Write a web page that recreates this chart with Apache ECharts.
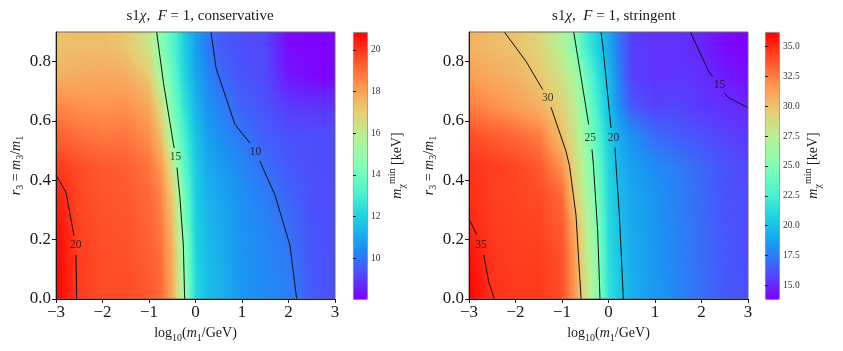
<!DOCTYPE html>
<html>
<head>
<meta charset="utf-8">
<script src="https://cdn.jsdelivr.net/npm/echarts@6/dist/echarts.min.js"></script>
<style>
  html, body { margin: 0; padding: 0; background: #fff; }
  #chart { width: 843px; height: 351px; }
</style>
</head>
<body>
<div id="chart"></div>
<script>
// grid nodes of the two maps (x = log10(m1/GeV), y = r3)
var X_NODES = [-3, -2.5, -2, -1.5, -1, -0.75, -0.5, -0.25, 0, 0.25, 0.5, 1, 1.5, 2, 2.5, 3];
var Y_ROWS = [0.05, 0.15, 0.25, 0.35, 0.45, 0.55, 0.65, 0.75, 0.85];

// m_chi^min [keV], one row per Y_ROWS entry (bottom -> top)
var CONS_VALUES = [
  [20.85, 19.9, 19.6, 19.6, 19.4, 19.1, 17.9, 15.05, 12.2, 11.6, 11.3, 10.6, 10.4, 10.2, 9.5, 9.35],
  [20.8, 19.85, 19.6, 19.55, 19.3, 19.0, 17.8, 14.85, 12.1, 11.5, 11.2, 10.6, 10.35, 10.05, 9.45, 9.35],
  [20.7, 19.75, 19.55, 19.5, 19.2, 18.8, 17.5, 14.5, 12.0, 11.4, 11.1, 10.55, 10.3, 9.9, 9.4, 9.3],
  [20.4, 19.7, 19.5, 19.4, 19.1, 18.6, 17.1, 14.1, 11.9, 11.3, 11.0, 10.5, 10.15, 9.7, 9.35, 9.3],
  [19.95, 19.6, 19.4, 19.3, 18.9, 18.2, 16.3, 13.6, 11.8, 11.1, 10.8, 10.35, 9.9, 9.5, 9.3, 9.3],
  [19.3, 19.0, 18.8, 18.9, 18.4, 17.4, 15.0, 13.1, 11.6, 10.9, 10.5, 10.05, 9.6, 9.35, 9.3, 9.3],
  [18.6, 18.4, 18.3, 18.4, 17.9, 16.6, 14.4, 12.6, 11.3, 10.6, 10.25, 9.65, 9.4, 9.0, 8.9, 8.9],
  [17.7, 17.8, 17.9, 17.8, 17.1, 15.3, 13.9, 12.2, 11.0, 10.4, 9.9, 9.4, 9.25, 8.4, 8.15, 8.1],
  [17.3, 17.4, 17.4, 17.2, 16.3, 14.7, 13.5, 12.0, 10.8, 10.15, 9.6, 9.3, 9.2, 8.2, 8.1, 8.05]
];
var STRI_VALUES = [
  [36.1, 34.85, 34.6, 34.6, 34.0, 31.8, 28.6, 25.7, 21.6, 20.3, 19.3, 18.5, 17.8, 17.1, 16.4, 16.1],
  [35.7, 34.7, 34.5, 34.5, 33.9, 31.6, 28.3, 25.5, 21.4, 20.1, 19.2, 18.4, 17.75, 17.05, 16.35, 16.05],
  [35.1, 34.6, 34.4, 34.3, 33.6, 31.1, 27.9, 25.1, 21.2, 19.9, 19.1, 18.35, 17.7, 17.0, 16.3, 16.0],
  [34.9, 34.5, 34.3, 34.1, 33.2, 29.9, 27.3, 24.6, 21.0, 19.7, 19.0, 18.3, 17.65, 16.95, 16.25, 15.95],
  [34.8, 34.5, 34.2, 33.7, 31.8, 29.2, 26.7, 24.0, 20.9, 19.5, 18.7, 18.0, 17.45, 16.8, 16.2, 15.85],
  [34.0, 33.6, 33.2, 32.6, 30.1, 28.4, 26.1, 23.3, 20.5, 19.1, 18.2, 17.0, 16.5, 16.1, 15.7, 15.4],
  [32.6, 32.0, 31.4, 30.7, 29.3, 27.9, 25.1, 22.5, 20.0, 18.0, 16.4, 15.7, 15.8, 15.4, 15.2, 14.95],
  [31.4, 31.0, 30.6, 29.8, 28.4, 26.9, 24.4, 21.8, 19.6, 17.5, 15.7, 15.3, 15.4, 15.2, 14.6, 14.2],
  [30.6, 30.3, 30.0, 29.2, 27.3, 25.4, 22.6, 20.8, 19.0, 17.2, 15.6, 15.3, 15.3, 14.9, 14.1, 13.9]
];

// colour bar ranges and ticks
var CONS_RANGE = [8.05, 20.86];
var STRI_RANGE = [13.85, 36.23];
var CONS_TICKS = [10, 12, 14, 16, 18, 20];
var STRI_TICKS = [15, 17.5, 20, 22.5, 25, 27.5, 30, 32.5, 35];

// contour lines, split where the inline label sits
var CONS_CONTOURS = [
  { level: 20, label: [-2.577, 0.182],
    parts: [[[-3, 0.418], [-2.785, 0.36], [-2.613, 0.213]], [[-2.57, 0.148], [-2.555, 0]]] },
  { level: 15, label: [-0.43, 0.478],
    parts: [[[-0.835, 0.9], [-0.69, 0.73], [-0.477, 0.525], [-0.456, 0.509]],
            [[-0.398, 0.443], [-0.333, 0.339], [-0.262, 0.182], [-0.233, 0]]] },
  { level: 10, label: [1.29, 0.495],
    parts: [[[0.333, 0.9], [0.441, 0.779], [0.849, 0.588], [1.172, 0.526]],
            [[1.387, 0.466], [1.42, 0.452], [1.71, 0.35], [2.03, 0.182], [2.176, 0]]] }
];
var STRI_CONTOURS = [
  { level: 35, label: [-2.74, 0.182],
    parts: [[[-3, 0.27], [-2.834, 0.217]], [[-2.684, 0.148], [-2.576, 0.058], [-2.454, 0]]] },
  { level: 30, label: [-1.307, 0.678],
    parts: [[[-2.239, 0.9], [-1.774, 0.801], [-1.415, 0.706]],
            [[-1.236, 0.646], [-0.914, 0.498], [-0.84, 0.45], [-0.699, 0.283], [-0.59, 0]]] },
  { level: 25, label: [-0.39, 0.543],
    parts: [[[-0.748, 0.9], [-0.426, 0.588]], [[-0.355, 0.504], [-0.325, 0.452], [-0.232, 0.227], [-0.183, 0]]] },
  { level: 20, label: [0.105, 0.543],
    parts: [[[-0.161, 0.9], [-0.125, 0.857], [0.054, 0.577]], [[0.14, 0.51], [0.161, 0.452], [0.234, 0.283], [0.32, 0]]] },
  { level: 15, label: [2.385, 0.722],
    parts: [[[1.761, 0.9], [2.155, 0.767], [2.24, 0.75]], [[2.49, 0.694], [2.585, 0.678], [3, 0.645]]] }
];

// matplotlib "rainbow" colour map stops
var RAINBOW = ['#8000ff', '#4d4ffc', '#1996f3', '#1acee3', '#4df3ce', '#80ffb4',
               '#b3f396', '#e6ce74', '#ff964f', '#ff4f28', '#ff0000'];

var SERIF = "'Liberation Serif', 'DejaVu Serif', serif";
var INK = '#1a1a1a';

var rgbStops = RAINBOW.map(function (h) {
  return [parseInt(h.substr(1, 2), 16), parseInt(h.substr(3, 2), 16), parseInt(h.substr(5, 2), 16)];
});

function cmap(v, range) {
  var t = (v - range[0]) / (range[1] - range[0]);
  t = Math.max(0, Math.min(1, t)) * (rgbStops.length - 1);
  var k = Math.min(Math.floor(t), rgbStops.length - 2), f = t - k;
  var a = rgbStops[k], b = rgbStops[k + 1];
  return 'rgb(' + Math.round(a[0] + (b[0] - a[0]) * f) + ',' +
    Math.round(a[1] + (b[1] - a[1]) * f) + ',' + Math.round(a[2] + (b[2] - a[2]) * f) + ')';
}

// one cell per x segment and per band between rows (edge bands keep the edge row)
function buildCells(values) {
  var cells = [];
  for (var j = 0; j <= Y_ROWS.length; j++) {
    var lo = j === 0 ? 0 : Y_ROWS[j - 1], hi = j === Y_ROWS.length ? 0.9 : Y_ROWS[j];
    for (var i = 0; i < X_NODES.length - 1; i++) {
      var r = Math.min(j, Y_ROWS.length - 1);
      cells.push([(X_NODES[i] + X_NODES[i + 1]) / 2, (lo + hi) / 2, values[r][i], i, j]);
    }
  }
  return cells;
}

function heatRenderer(values, range) {
  var ny = Y_ROWS.length;
  return function (params, api) {
    var i = api.value(3), j = api.value(4);
    var yLo = j === 0 ? 0 : Y_ROWS[j - 1];
    var yHi = j === ny ? 0.9 : Y_ROWS[j];
    var ra = Math.max(j - 1, 0), rb = Math.min(j, ny - 1);
    var children = [], n = 12;
    for (var s = 0; s < n; s++) {
      var ya = yLo + (yHi - yLo) * s / n, yb = yLo + (yHi - yLo) * (s + 1) / n;
      var f = ra === rb ? 0 : ((ya + yb) / 2 - Y_ROWS[ra]) / (Y_ROWS[rb] - Y_ROWS[ra]);
      var vl = values[ra][i] + (values[rb][i] - values[ra][i]) * f;
      var vr = values[ra][i + 1] + (values[rb][i + 1] - values[ra][i + 1]) * f;
      var p0 = api.coord([X_NODES[i], yb]), p1 = api.coord([X_NODES[i + 1], ya]);
      var x0 = Math.round(p0[0]), x1 = Math.round(p1[0]), y0 = Math.round(p0[1]), y1 = Math.round(p1[1]);
      if (y1 <= y0 || x1 <= x0) continue;
      var stops = [];
      for (var k = 0; k <= 5; k++) {
        stops.push({ offset: k / 5, color: cmap(vl + (vr - vl) * k / 5, range) });
      }
      children.push({
        type: 'rect',
        shape: { x: x0, y: y0, width: x1 - x0, height: y1 - y0 },
        style: { fill: { type: 'linear', x: 0, y: 0, x2: 1, y2: 0, colorStops: stops } }
      });
    }
    return { type: 'group', children: children };
  };
}

var richText = {
  r: { fontFamily: SERIF, fontSize: 14, color: INK, lineHeight: 20 },
  i: { fontFamily: SERIF, fontSize: 14, fontStyle: 'italic', color: INK, lineHeight: 20 },
  s: { fontFamily: SERIF, fontSize: 10, color: INK, verticalAlign: 'bottom', lineHeight: 12 },
  p: { fontFamily: SERIF, fontSize: 10, color: INK, verticalAlign: 'top', lineHeight: 12 }
};

function mainXAxis(gi) {
  return {
    type: 'value', gridIndex: gi, min: -3, max: 3, interval: 1, z: 10,
    name: '{r|log}{s|10}{r|(}{i|m}{s|1}{r|/GeV)}', nameLocation: 'middle', nameGap: 21,
    nameTextStyle: { rich: richText },
    axisLine: { show: true, onZero: false, lineStyle: { color: INK, width: 1 } },
    axisTick: { length: 4, lineStyle: { color: INK } },
    axisLabel: { fontFamily: SERIF, fontSize: 17, color: INK, margin: 5,
      formatter: function (v) { return String(v).replace('-', '\u2212'); } },
    splitLine: { show: false }
  };
}

function mainYAxis(gi) {
  var ticks = [0, 0.2, 0.4, 0.6, 0.8];
  return {
    type: 'value', gridIndex: gi, min: 0, max: 0.9, z: 10,
    name: '{i|r}{s|3}{r| = }{i|m}{s|3}{r|/}{i|m}{s|1}', nameLocation: 'middle', nameGap: 28, nameRotate: 90,
    nameTextStyle: { rich: richText },
    axisLine: { show: true, onZero: false, lineStyle: { color: INK, width: 1 } },
    axisTick: { length: 4, customValues: ticks, lineStyle: { color: INK } },
    axisLabel: { fontFamily: SERIF, fontSize: 17, color: INK, margin: 5, customValues: ticks,
      formatter: function (v) { return v.toFixed(1); } },
    splitLine: { show: false }
  };
}

function barYAxis(gi, range, ticks, digits, gap) {
  return {
    type: 'value', gridIndex: gi, min: range[0], max: range[1], position: 'right', z: 10,
    name: '{i|m}{s|\u03c7}{p|min}{r| [keV]}', nameLocation: 'middle', nameGap: gap, nameRotate: 90,
    nameTextStyle: { rich: richText },
    axisLine: { show: false },
    axisTick: { length: 3, customValues: ticks, lineStyle: { color: INK } },
    axisLabel: { fontFamily: SERIF, fontSize: 9.5, color: '#333', margin: 4, customValues: ticks,
      formatter: function (v) { return v.toFixed(digits); } },
    splitLine: { show: false }
  };
}

function hiddenXAxis(gi) {
  return { type: 'value', gridIndex: gi, min: 0, max: 1, show: false };
}

var series = [
  { type: 'custom', xAxisIndex: 0, yAxisIndex: 0, data: buildCells(CONS_VALUES),
    renderItem: heatRenderer(CONS_VALUES, CONS_RANGE), clip: true, silent: true, z: 1 },
  { type: 'custom', xAxisIndex: 2, yAxisIndex: 2, data: buildCells(STRI_VALUES),
    renderItem: heatRenderer(STRI_VALUES, STRI_RANGE), clip: true, silent: true, z: 1 }
];

function addContours(list, axisIndex) {
  list.forEach(function (c) {
    c.parts.forEach(function (part) {
      series.push({ type: 'line', xAxisIndex: axisIndex, yAxisIndex: axisIndex, data: part,
        showSymbol: false, symbol: 'none', silent: true, z: 3,
        lineStyle: { color: '#111', width: 1 } });
    });
    series.push({ type: 'scatter', xAxisIndex: axisIndex, yAxisIndex: axisIndex, symbolSize: 0,
      data: [c.label.concat([c.level])], silent: true, z: 4,
      label: { show: true, position: 'inside', fontFamily: SERIF, fontSize: 11.5, color: '#111',
        formatter: function (p) { return String(p.value[2]); } } });
  });
}
addContours(CONS_CONTOURS, 0);
addContours(STRI_CONTOURS, 2);

var titleRich = {
  r: { fontFamily: SERIF, fontSize: 15, fontWeight: 'normal', color: INK },
  i: { fontFamily: SERIF, fontSize: 15, fontWeight: 'normal', fontStyle: 'italic', color: INK }
};

var option = {
  backgroundColor: '#fff',
  animation: false,
  title: [
    { text: '{r|s1}{i|\u03c7}{r|,  }{i|F}{r| = 1, conservative}', left: 195, top: 4, textAlign: 'center',
      textStyle: { fontWeight: 'normal', rich: titleRich } },
    { text: '{r|s1}{i|\u03c7}{r|,  }{i|F}{r| = 1, stringent}', left: 609, top: 4, textAlign: 'center',
      textStyle: { fontWeight: 'normal', rich: titleRich } }
  ],
  grid: [
    { left: 56, top: 32, width: 279, height: 267, show: true, z: 5, borderColor: '#666', borderWidth: 1, backgroundColor: 'transparent' },
    { left: 353, top: 32, width: 14, height: 267 },
    { left: 469, top: 32, width: 279, height: 267, show: true, z: 5, borderColor: '#666', borderWidth: 1, backgroundColor: 'transparent' },
    { left: 765, top: 32, width: 14, height: 267 }
  ],
  xAxis: [mainXAxis(0), hiddenXAxis(1), mainXAxis(2), hiddenXAxis(3)],
  yAxis: [mainYAxis(0), barYAxis(1, CONS_RANGE, CONS_TICKS, 0, 20), mainYAxis(2), barYAxis(3, STRI_RANGE, STRI_TICKS, 1, 24)],
  visualMap: [
    { type: 'continuous', seriesIndex: 0, dimension: 2, min: CONS_RANGE[0], max: CONS_RANGE[1],
      calculable: false, showLabel: false, text: null, left: 353, top: 32, padding: 0,
      itemWidth: 14, itemHeight: 267, borderColor: '#666', borderWidth: 0.8,
      inRange: { color: RAINBOW } },
    { type: 'continuous', seriesIndex: 1, dimension: 2, min: STRI_RANGE[0], max: STRI_RANGE[1],
      calculable: false, showLabel: false, text: null, left: 765, top: 32, padding: 0,
      itemWidth: 14, itemHeight: 267, borderColor: '#666', borderWidth: 0.8,
      inRange: { color: RAINBOW } }
  ],
  series: series
};

var myChart = echarts.init(document.getElementById('chart'), null, { renderer: 'canvas' });
myChart.setOption(option);
</script>
</body>
</html>
